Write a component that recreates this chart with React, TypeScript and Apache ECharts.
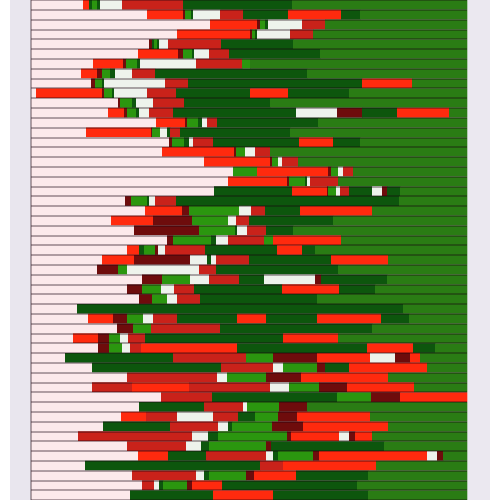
import React, { useEffect, useRef } from "react";
import * as echarts from "echarts";

// segment kinds and their colours
const segmentKinds = ["P", "R", "F", "D", "G", "W", "K", "L"];
const segmentColors = [
  "#fce9eb", // P light pink
  "#ff2a0e", // R bright red
  "#c9221a", // F firebrick
  "#6e0c0c", // D maroon
  "#2b960f", // G bright green
  "#eef3ec", // W white
  "#0d560d", // K dark green
  "#2a7c14", // L forest green
];

// each row: kind + end value of the segment (segments start where the previous ends)
const rowSegments = [
  "P83 R89 K92 G97 K100 W122 F183 K292 L467",
  "P147 R183 D185 G191 K193 W220 F243 K288 R341 K360 L467",
  "P210 R257 D260 G265 K268 W302 F325 L467",
  "P177 R250 D252 G255 K257 W290 F313 L467",
  "P149 D152 K154 G157 K159 W168 F221 K293 L467",
  "P138 R178 D183 G192 K194 W209 F229 K320 L467",
  "P93 R123 D126 G137 K140 W196 F242 G250 L467",
  "P81 R97 D102 G110 K115 W132 F155 K307 L467",
  "P91 D95 G102 K104 W165 F188 K362 R412 L467",
  "P36 R102 D104 G112 K114 W147 F176 K250 R288 K349 L467",
  "P118 D120 G132 K136 W153 F184 K270 L467",
  "P108 R124 D127 G136 K139 W149 F173 K296 W337 D362 K397 R449 L467",
  "P156 R185 D187 G198 K202 W207 F217 K318 L467",
  "P86 R151 D152 G160 W167 K170 F180 K290 L467",
  "P169 D172 G184 K189 W193 F213 K299 R333 K360 L467",
  "P162 R234 D236 G245 W255 F270 L467",
  "P204 R270 D272 G278 W282 F298 L467",
  "P233 G257 R328 D331 G338 W343 F353 L467",
  "P228 R287 D289 G305 K307 W310 F338 L467",
  "P214 K292 R327 D328 G336 W340 F349 K372 W382 D387 K400 L467",
  "P125 D131 G147 K149 W155 F176 K399 L467",
  "P145 R182 D189 G239 W251 F265 K300 R372 L467",
  "P111 R153 D192 G228 W236 F249 K333 L467",
  "P134 D199 G235 K237 W247 F266 K293 L467",
  "P167 D173 G211 K216 W228 F264 G273 R341 L467",
  "P127 R139 K144 G155 D158 W165 F205 K277 R302 K315 L467",
  "P102 R134 D190 W207 K211 W216 F249 K331 R388 L467",
  "P97 D118 G127 W199 F216 K338 L467",
  "P142 D162 G190 W209 F239 K264 W315 D321 K387 L467",
  "P127 D142 G161 W174 F194 K282 R339 K375 L467",
  "P139 D152 G167 W177 F200 K317 L467",
  "P77 K403 L467",
  "P88 R113 D127 G143 W153 F177 K237 R266 K317 R381 K409 L467",
  "P117 D133 G151 F220 K372 L467",
  "P73 R98 D109 G120 W128 F145 K283 R338 L467",
  "P98 D109 G122 W130 F141 R237 K367 R413 K435 L467",
  "P65 K173 F246 G273 D317 R370 W395 D410 R420 L467",
  "P92 K221 F273 W283 G317 D325 K349 R427 L467",
  "P127 F217 W227 G266 D301 R388 L467",
  "P92 F132 R189 F270 W289 G319 D347 R414 L467",
  "P161 F212 K337 G371 D400 R467",
  "P139 K204 F243 W247 G279 D307 L467",
  "P121 R146 F177 W213 F238 K255 G278 D297 R370 L467",
  "P103 K170 F218 W228 K232 G272 D303 R388 L467",
  "P78 F192 W208 K218 G287 D291 R339 W349 D355 R372 L467",
  "P127 F186 W201 K209 G266 D271 K384 L467",
  "P138 R168 K206 F266 W273 K278 G313 D319 R427 W437 D443 L467",
  "P85 K260 F283 R376 L467",
  "P132 F196 W204 K209 G246 D254 R296 K368 L467",
  "P142 F154 W159 K163 G187 D192 R222 K357 L467",
  "P130 K213 R273 K368 L467",
];

const axisMin = 31;
const axisMax = 467;
const rowLabels = rowSegments.map((_, i) => String(i + 1));

function buildData() {
  const out: number[][] = [];
  rowSegments.forEach((row, r) => {
    let start = axisMin;
    row.split(" ").forEach((tok) => {
      const kind = segmentKinds.indexOf(tok[0]);
      const end = Number(tok.slice(1));
      out.push([r, start, end, kind]);
      start = end;
    });
  });
  return out;
}

export default function App() {
  const ref = useRef<HTMLDivElement>(null);
  useEffect(() => {
    if (!ref.current) return;
    const chart = echarts.init(ref.current, null, { renderer: "svg" });
    const data = buildData();
    chart.setOption({
      animation: false,
      backgroundColor: "#ffffff",
      graphic: [
        { type: "rect", left: 10, top: 0, shape: { width: 21, height: 500 }, style: { fill: "#e9e6ee" }, z: 0 },
        { type: "rect", left: 467, top: 0, shape: { width: 23, height: 500 }, style: { fill: "#ebe8f0" }, z: 0 },
      ],
      grid: { left: 31, right: 33, top: -2.6, height: 504.4, containLabel: false },
      xAxis: { type: "value", min: axisMin, max: axisMax, show: false },
      yAxis: {
        type: "category",
        data: rowLabels,
        inverse: true,
        z: 10,
        axisLabel: { show: false, interval: 0 },
        axisTick: { show: false, interval: 0 },
        axisLine: { show: true, lineStyle: { color: "rgba(70,50,60,0.55)", width: 1.5 } },
        splitLine: { show: true, interval: 0, lineStyle: { color: "rgba(25,5,15,0.45)", width: 1.5 } },
      },
      series: [
        {
          type: "custom",
          encode: { x: [1, 2], y: 0 },
          data,
          renderItem: (params: any, api: any) => {
            const row = api.value(0);
            const s = api.value(1);
            const e = api.value(2);
            const k = api.value(3);
            const p0 = api.coord([s, row]);
            const p1 = api.coord([e, row]);
            const h = api.size([0, 1])[1];
            return {
              type: "rect",
              shape: { x: p0[0], y: p0[1] - h / 2, width: p1[0] - p0[0] + 0.3, height: h },
              style: { fill: segmentColors[k] },
            };
          },
        },
      ],
    });
    return () => chart.dispose();
  }, []);
  return (
    <div
      ref={ref}
      style={{ position: "fixed", left: 0, top: 0, width: 500, height: 500 }}
    />
  );
}
